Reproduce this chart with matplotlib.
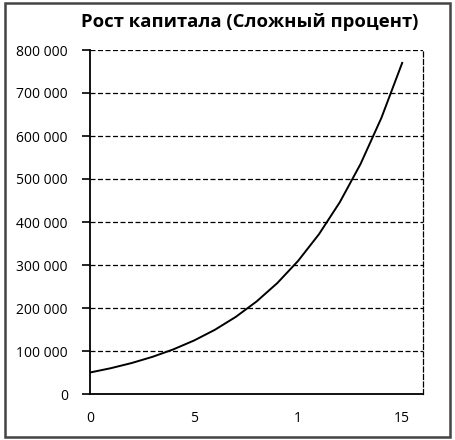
import matplotlib
matplotlib.use("Agg")
import matplotlib.pyplot as plt
from matplotlib.patches import Rectangle
from matplotlib.ticker import FuncFormatter

years = [0, 1, 2, 3, 4, 5, 6, 7, 8, 9, 10, 11, 12, 13, 14, 15]
capital = [50000, 60000, 72000, 86400, 103700, 124400, 149300, 179200,
           215000, 258000, 309600, 371500, 445800, 535000, 642000, 770000]
x_ticks = [0, 5, 10, 15]
x_tick_labels = ["0", "5", "1", "15"]
y_ticks = [0, 100000, 200000, 300000, 400000, 500000, 600000, 700000, 800000]
title = "Рост капитала (Сложный процент)"

plt.rcParams['font.family'] = ['Open Sans', 'DejaVu Sans']

fig = plt.figure(figsize=(4.55, 4.4), dpi=100)
ax = fig.add_axes([90/455, 1-394/440, (423-90)/455, (394-50)/440])

ax.plot(years, capital, color='black', lw=1.4)

ax.set_xlim(0, 16.0)
ax.set_ylim(0, 800000)
ax.set_yticks(y_ticks)
ax.yaxis.set_major_formatter(FuncFormatter(lambda v, p: f"{int(v):,}".replace(",", " ")))
ax.set_xticks(x_ticks)
ax.set_xticklabels(x_tick_labels)
ax.set_xticks([0], minor=True)
ax.tick_params(axis='x', which='major', length=0, pad=12, labelsize=10)
ax.tick_params(axis='x', which='minor', length=8, width=1.2, direction='out')
ax.tick_params(axis='y', length=6, width=1.2, direction='out', labelsize=10, pad=10)

ax.grid(axis='y', linestyle=(0, (4, 2)), color='black', lw=0.9)
ax.spines['left'].set_linewidth(1.3)
ax.spines['bottom'].set_linewidth(1.3)
ax.spines['top'].set_visible(False)
ax.spines['right'].set_linestyle((0, (4, 2)))
ax.spines['right'].set_linewidth(0.9)
ax.set_axisbelow(True)

fig.text(250/455, 1-22/440, title, ha='center', va='center',
         fontsize=13.3, fontweight='bold')

fig.patches.append(Rectangle((5/455, 3/440), 445/455, 434/440, transform=fig.transFigure,
                             fill=False, edgecolor='#444444', lw=1.8))

fig.savefig("out.png", dpi=100)
